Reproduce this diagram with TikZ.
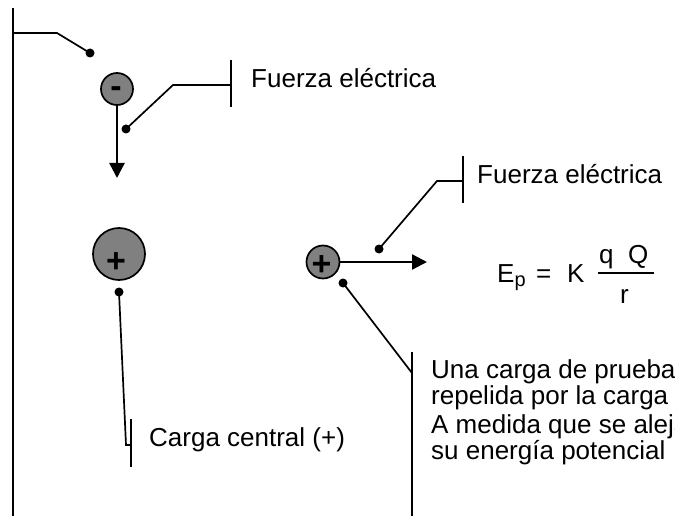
\documentclass[tikz,border=0pt]{standalone}
\usepackage{fontspec}
\setmainfont{Liberation Sans}
\usetikzlibrary{arrows.meta}
\definecolor{chargegray}{RGB}{128,128,128}

\begin{document}
\begin{tikzpicture}[x=1pt, y=-1pt,
    charge/.style={circle, draw, line width=1.7pt, fill=chargegray, inner sep=0pt},
    sign/.style={inner sep=0pt, font=\fontsize{34}{34}\selectfont\bfseries},
    force/.style={line width=2.4pt, -{Triangle[length=15pt, width=15pt]}},
    leader/.style={line width=1.7pt},
    note/.style={anchor=base west, inner sep=0pt, align=left, font=\fontsize{26}{22}\selectfont}]
            \useasboundingbox (0,0) rectangle (675,516);
            \clip (0,0) rectangle (675,516);

            \node[charge, minimum size=32pt] (neg) at (117,89) {};
            \node[sign] (negsign) at (116,92) {\textbf{-}};
            \node[charge, minimum size=52pt] (qcentral) at (119,254) {};
            \node[sign] (centralsign) at (116,262.5) {\textbf{+}};
            \node[charge, minimum size=33pt] (qtest) at (323,262) {};
            \node[sign] (testsign) at (321.5,266) {\textbf{+}};

            \coordinate (negtip) at (117,178);
            \coordinate (testtip) at (427,262);
            \draw[force] (neg) -- (negtip);
            \draw[force] (qtest) -- (testtip);

            \node[note] (fuerza1) at (251,88) {Fuerza eléctrica};
            \node[note] (fuerza2) at (477,183) {Fuerza eléctrica};
            \node[note] (central) at (149,446) {Carga central (+)};
            \node[note] (prueba) at (431,404) {Una carga de prueba\\repelida por la carga};
            \node[note] (medida) at (431,459) {A medida que se aleja\\su energía potencial};

            \node[note] (ep) at (497,282) {E\raisebox{-4pt}{\fontsize{20}{20}\selectfont p}};
            \node[note] (eq) at (536,282) {=};
            \node[note] (k) at (567,282) {K};
            \node[note] (num) at (599,263) {q~~Q};
            \node[note] (den) at (620,303) {r};
            \draw[leader] (598,273) -- (654,273);

            \coordinate (topdot) at (90,53);
            \coordinate (topelbow) at (57,33);
            \coordinate (topbar) at (13,33);
            \draw[line width=2pt] (13,8) -- (13,520);
            \fill (topdot) circle (4.5pt);
            \draw[leader] (topbar) -- (topelbow) -- (topdot);

            \coordinate (f1dot) at (126,129);
            \coordinate (f1elbow) at (173,85);
            \coordinate (f1bar) at (231,85);
            \fill (f1dot) circle (4.5pt);
            \draw[leader] (f1dot) -- (f1elbow) -- (f1bar);
            \draw[leader] (231,60) -- (231,107);

            \coordinate (f2dot) at (379,249);
            \coordinate (f2elbow) at (437,181);
            \coordinate (f2bar) at (463,181);
            \fill (f2dot) circle (4.5pt);
            \draw[leader] (f2dot) -- (f2elbow) -- (f2bar);
            \draw[leader] (463,156) -- (463,203);

            \coordinate (cdot) at (119,292);
            \coordinate (celbow) at (126,445);
            \coordinate (cbar) at (131,445);
            \fill (cdot) circle (4.5pt);
            \draw[leader] (cdot) -- (celbow) -- (cbar);
            \draw[leader] (131,419) -- (131,467);

            \coordinate (tdot) at (343,283);
            \coordinate (tbar) at (412,373);
            \fill (tdot) circle (4.5pt);
            \draw[leader] (tdot) -- (tbar);
            \draw[leader] (412,352) -- (412,520);
        \end{tikzpicture}
\end{document}
